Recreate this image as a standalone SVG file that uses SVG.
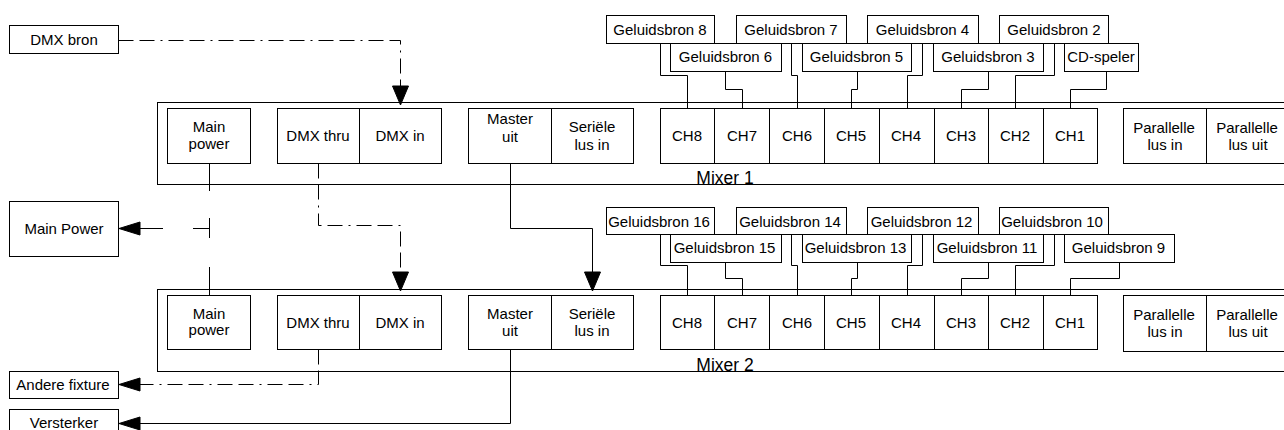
<svg xmlns="http://www.w3.org/2000/svg" xmlns:xlink="http://www.w3.org/1999/xlink" width="1284" height="430" viewBox="0 0 1284 430">
<defs>
<style>
.b{fill:#fff;stroke:#000;stroke-width:1}
.o{fill:none;stroke:#000;stroke-width:1}
.t{font-family:"Liberation Sans",Arial,sans-serif;font-size:15px;text-anchor:middle;fill:#000}
.m{font-family:"Liberation Sans",Arial,sans-serif;font-size:17.5px;text-anchor:middle;fill:#000}
.c{fill:none;stroke:#000;stroke-width:1}
.d{stroke-dasharray:15 6 15 6 2 6}
.ah{fill:#000;stroke:#000;stroke-width:1;stroke-linejoin:miter}
</style>
<path id="adown" class="ah" d="M-8,-19 L8,-19 L0,0 Z"/>
<path id="aleft" class="ah" d="M21,-6.5 L21,6.5 L0,0 Z"/>
</defs>
<rect width="1284" height="430" fill="#fff"/>

<!-- external nodes -->
<g id="dmx-bron"><rect class="b" x="9.5" y="25.5" width="109" height="28"/><text class="t" x="64" y="44.5">DMX bron</text></g>
<g id="main-power-ext"><rect class="b" x="9.5" y="201.5" width="109" height="55"/><text class="t" x="64" y="234">Main Power</text></g>
<g id="andere-fixture"><rect class="b" x="9.5" y="371.5" width="109" height="27"/><text class="t" x="63" y="390">Andere fixture</text></g>
<g id="versterker"><rect class="b" x="9.5" y="409.5" width="109" height="30"/><text class="t" x="64" y="428">Versterker</text></g>

<!-- Mixer 1 -->
<g id="mixer1">
<rect class="o" x="157.5" y="102.5" width="1140" height="82"/>
<text class="m" x="725" y="184">Mixer 1</text>
<g id="m1-main-power"><rect class="b" x="167.5" y="108.5" width="83" height="55"/><text class="t" x="209" y="132">Main</text><text class="t" x="209" y="148.5">power</text></g>
<g id="m1-dmx-thru"><rect class="b" x="277.5" y="108.5" width="82" height="55"/><text class="t" x="318" y="141">DMX thru</text></g>
<g id="m1-dmx-in"><rect class="b" x="359.5" y="108.5" width="82" height="55"/><text class="t" x="400" y="141">DMX in</text></g>
<g id="m1-master-uit"><rect class="b" x="468.5" y="108.5" width="83" height="55"/><text class="t" x="510" y="124">Master</text><text class="t" x="510" y="141.5">uit</text></g>
<g id="m1-seriele"><rect class="b" x="551.5" y="108.5" width="82" height="55"/><text class="t" x="592" y="132">Seriële</text><text class="t" x="592" y="149.5">lus in</text></g>
<g id="m1-ch8"><rect class="b" x="660.5" y="108.5" width="54" height="55"/><text class="t" x="687" y="141">CH8</text></g>
<g id="m1-ch7"><rect class="b" x="714.5" y="108.5" width="55" height="55"/><text class="t" x="742" y="141">CH7</text></g>
<g id="m1-ch6"><rect class="b" x="769.5" y="108.5" width="55" height="55"/><text class="t" x="797" y="141">CH6</text></g>
<g id="m1-ch5"><rect class="b" x="824.5" y="108.5" width="55" height="55"/><text class="t" x="851" y="141">CH5</text></g>
<g id="m1-ch4"><rect class="b" x="879.5" y="108.5" width="55" height="55"/><text class="t" x="906" y="141">CH4</text></g>
<g id="m1-ch3"><rect class="b" x="934.5" y="108.5" width="54" height="55"/><text class="t" x="961" y="141">CH3</text></g>
<g id="m1-ch2"><rect class="b" x="988.5" y="108.5" width="55" height="55"/><text class="t" x="1015" y="141">CH2</text></g>
<g id="m1-ch1"><rect class="b" x="1043.5" y="108.5" width="54" height="55"/><text class="t" x="1070" y="141">CH1</text></g>
<g id="m1-par-in"><rect class="b" x="1123.5" y="108.5" width="83" height="55"/><text class="t" x="1164" y="132.5">Parallelle</text><text class="t" x="1165" y="150">lus in</text></g>
<g id="m1-par-uit"><rect class="b" x="1206.5" y="108.5" width="83" height="55"/><text class="t" x="1247" y="132.5">Parallelle</text><text class="t" x="1248" y="150">lus uit</text></g>
</g>

<!-- Mixer 1 sources -->
<g id="gb8"><rect class="b" x="606.5" y="15.5" width="108" height="28"/><text class="t" x="660" y="34.5">Geluidsbron 8</text></g>
<g id="gb7"><rect class="b" x="736.5" y="15.5" width="110" height="28"/><text class="t" x="791" y="34.5">Geluidsbron 7</text></g>
<g id="gb4"><rect class="b" x="867.5" y="15.5" width="111" height="28"/><text class="t" x="922.5" y="34.5">Geluidsbron 4</text></g>
<g id="gb2"><rect class="b" x="999.5" y="15.5" width="109" height="28"/><text class="t" x="1054" y="34.5">Geluidsbron 2</text></g>
<g id="gb6"><rect class="b" x="670.5" y="43.5" width="111" height="28"/><text class="t" x="725.5" y="62">Geluidsbron 6</text></g>
<g id="gb5"><rect class="b" x="802.5" y="43.5" width="109" height="28"/><text class="t" x="856.5" y="62">Geluidsbron 5</text></g>
<g id="gb3"><rect class="b" x="933.5" y="43.5" width="110" height="28"/><text class="t" x="988" y="62">Geluidsbron 3</text></g>
<g id="cd-speler"><rect class="b" x="1064.5" y="43.5" width="74" height="28"/><text class="t" x="1101" y="62">CD-speler</text></g>

<!-- Mixer 2 -->
<g id="mixer2">
<rect class="o" x="157.5" y="289.5" width="1140" height="82"/>
<text class="m" x="725" y="371">Mixer 2</text>
<g id="m2-main-power"><rect class="b" x="167.5" y="295.5" width="83" height="54"/><text class="t" x="209" y="318.5">Main</text><text class="t" x="209" y="335">power</text></g>
<g id="m2-dmx-thru"><rect class="b" x="277.5" y="295.5" width="82" height="54"/><text class="t" x="318" y="327.5">DMX thru</text></g>
<g id="m2-dmx-in"><rect class="b" x="359.5" y="295.5" width="82" height="54"/><text class="t" x="400" y="327.5">DMX in</text></g>
<g id="m2-master-uit"><rect class="b" x="468.5" y="295.5" width="83" height="54"/><text class="t" x="510" y="318.5">Master</text><text class="t" x="510" y="335.5">uit</text></g>
<g id="m2-seriele"><rect class="b" x="551.5" y="295.5" width="82" height="54"/><text class="t" x="592" y="318.5">Seriële</text><text class="t" x="592" y="335.5">lus in</text></g>
<g id="m2-ch8"><rect class="b" x="660.5" y="295.5" width="54" height="54"/><text class="t" x="687" y="327.5">CH8</text></g>
<g id="m2-ch7"><rect class="b" x="714.5" y="295.5" width="55" height="54"/><text class="t" x="742" y="327.5">CH7</text></g>
<g id="m2-ch6"><rect class="b" x="769.5" y="295.5" width="55" height="54"/><text class="t" x="797" y="327.5">CH6</text></g>
<g id="m2-ch5"><rect class="b" x="824.5" y="295.5" width="55" height="54"/><text class="t" x="851" y="327.5">CH5</text></g>
<g id="m2-ch4"><rect class="b" x="879.5" y="295.5" width="55" height="54"/><text class="t" x="906" y="327.5">CH4</text></g>
<g id="m2-ch3"><rect class="b" x="934.5" y="295.5" width="54" height="54"/><text class="t" x="961" y="327.5">CH3</text></g>
<g id="m2-ch2"><rect class="b" x="988.5" y="295.5" width="55" height="54"/><text class="t" x="1015" y="327.5">CH2</text></g>
<g id="m2-ch1"><rect class="b" x="1043.5" y="295.5" width="54" height="54"/><text class="t" x="1070" y="327.5">CH1</text></g>
<g id="m2-par-in"><rect class="b" x="1123.5" y="295.5" width="83" height="56"/><text class="t" x="1164" y="319.5">Parallelle</text><text class="t" x="1165" y="337">lus in</text></g>
<g id="m2-par-uit"><rect class="b" x="1206.5" y="295.5" width="83" height="56"/><text class="t" x="1247" y="319.5">Parallelle</text><text class="t" x="1248" y="337">lus uit</text></g>
</g>

<!-- Mixer 2 sources -->
<g id="gb16"><rect class="b" x="606.5" y="207.5" width="108" height="27"/><text class="t" x="659" y="226.5">Geluidsbron 16</text></g>
<g id="gb14"><rect class="b" x="736.5" y="207.5" width="110" height="27"/><text class="t" x="790" y="226.5">Geluidsbron 14</text></g>
<g id="gb12"><rect class="b" x="867.5" y="207.5" width="111" height="27"/><text class="t" x="921.5" y="226.5">Geluidsbron 12</text></g>
<g id="gb10"><rect class="b" x="999.5" y="207.5" width="109" height="27"/><text class="t" x="1052" y="226.5">Geluidsbron 10</text></g>
<g id="gb15"><rect class="b" x="670.5" y="234.5" width="111" height="28"/><text class="t" x="724.5" y="253">Geluidsbron 15</text></g>
<g id="gb13"><rect class="b" x="802.5" y="234.5" width="109" height="28"/><text class="t" x="855.5" y="253">Geluidsbron 13</text></g>
<g id="gb11"><rect class="b" x="933.5" y="234.5" width="110" height="28"/><text class="t" x="987" y="253">Geluidsbron 11</text></g>
<g id="gb9"><rect class="b" x="1064.5" y="234.5" width="110" height="28"/><text class="t" x="1118.5" y="253">Geluidsbron 9</text></g>

<!-- connectors -->
<g id="connectors">
<path class="c" d="M660.5,43.5 V75.5 H687.5 V108.5"/>
<path class="c" d="M725.5,71.5 V89.5 H742.5 V108.5"/>
<path class="c" d="M791.5,43.5 V75.5 H797.5 V108.5"/>
<path class="c" d="M857.5,71.5 V89.5 H851.5 V108.5"/>
<path class="c" d="M922.5,43.5 V75.5 H907.5 V108.5"/>
<path class="c" d="M988.5,71.5 V89.5 H961.5 V108.5"/>
<path class="c" d="M1054.5,43.5 V75.5 H1015.5 V108.5"/>
<path class="c" d="M1106.5,71.5 V89.5 H1070.5 V108.5"/>

<path class="c" d="M660.5,234.5 V265.5 H687.5 V295.5"/>
<path class="c" d="M725.5,262.5 V278.5 H742.5 V295.5"/>
<path class="c" d="M791.5,234.5 V265.5 H797.5 V295.5"/>
<path class="c" d="M857.5,262.5 V278.5 H851.5 V295.5"/>
<path class="c" d="M922.5,234.5 V265.5 H907.5 V295.5"/>
<path class="c" d="M988.5,262.5 V278.5 H961.5 V295.5"/>
<path class="c" d="M1054.5,234.5 V265.5 H1015.5 V295.5"/>
<path class="c" d="M1119.5,262.5 V278.5 H1070.5 V295.5"/>

<path class="c d" d="M118.5,40.5 H400.5 V86"/>
<use xlink:href="#adown" href="#adown" x="400.5" y="105"/>
<path class="c d" d="M318.5,163.5 V225.5 H400.5 V272"/>
<use xlink:href="#adown" href="#adown" x="400.5" y="291"/>
<path class="c d" d="M318.5,349.5 V384.5 H138"/>
<use xlink:href="#aleft" href="#aleft" x="119" y="384.5"/>

<path class="c" d="M209.5,163.5 V191"/>
<path class="c" d="M209.5,218 V238"/>
<path class="c" d="M193,228.5 H209.5"/>
<path class="c" d="M163,228.5 H138"/>
<use xlink:href="#aleft" href="#aleft" x="119" y="228.5"/>
<path class="c" d="M209.5,267 V295.5"/>

<path class="c" d="M510.5,163.5 V228.5 H592.5 V272"/>
<use xlink:href="#adown" href="#adown" x="592.5" y="291"/>
<path class="c" d="M510.5,349.5 V423.5 H138"/>
<use xlink:href="#aleft" href="#aleft" x="119" y="423.5"/>
</g>
</svg>
